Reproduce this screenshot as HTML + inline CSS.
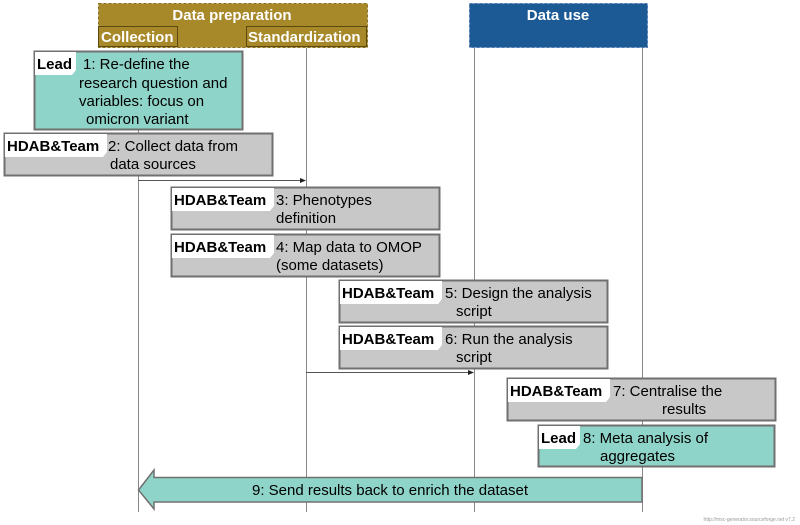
<!DOCTYPE html>
<html><head><meta charset="utf-8"><style>
html,body{margin:0;padding:0;background:#fff;width:800px;height:525px;overflow:hidden}
svg{display:block}
text{font-family:"Liberation Sans",Arial,sans-serif;font-size:15px;fill:#000}
.b{font-weight:bold}
</style></head><body>
<svg width="800" height="525" viewBox="0 0 800 525">
<g stroke="#888" stroke-width="1">
<line x1="138.5" y1="48" x2="138.5" y2="512"/>
<line x1="306.5" y1="48" x2="306.5" y2="512"/>
<line x1="474.5" y1="48" x2="474.5" y2="512"/>
<line x1="642.5" y1="48" x2="642.5" y2="512"/>
</g>
<!-- headers -->
<rect x="98.5" y="3.5" width="269" height="44" fill="#a8892a" stroke="#8a7020" stroke-dasharray="3,2"/>
<text x="232" y="20" text-anchor="middle" class="b" style="fill:#fff">Data preparation</text>
<rect x="98.5" y="26.5" width="79" height="20" fill="#a8892a" stroke="#5a4a10"/>
<text x="101" y="42" class="b" style="fill:#fff">Collection</text>
<rect x="246.5" y="26.5" width="120" height="20" fill="#a8892a" stroke="#5a4a10"/>
<text x="248" y="42" class="b" style="fill:#fff">Standardization</text>
<rect x="469.5" y="3.5" width="178" height="44" fill="#1c5a96" stroke="#4a7ab0" stroke-dasharray="3,2"/>
<text x="558" y="20" text-anchor="middle" class="b" style="fill:#fff">Data use</text>
<!-- box 1 -->
<rect x="34.5" y="51.5" width="208" height="78" fill="#8fd4c8" stroke="#707070" stroke-width="2"/>
<path d="M35 52 H76 V70 L72 75 H35 Z" fill="#fff"/>
<text x="37" y="69" class="b">Lead</text>
<text x="83" y="69">1: Re-define the</text>
<text x="79" y="88">research question and</text>
<text x="79" y="106">variables: focus on</text>
<text x="86" y="124">omicron variant</text>
<!-- box 2 -->
<rect x="4.5" y="133.5" width="268" height="42" fill="#c8c8c8" stroke="#707070" stroke-width="2"/>
<path d="M5 134 H107 V152 L103 157 H5 Z" fill="#fff"/>
<text x="7" y="151" class="b">HDAB&amp;Team</text>
<text x="108" y="151">2: Collect data from</text>
<text x="110" y="169">data sources</text>
<!-- arrow -->
<line x1="138" y1="180.5" x2="302" y2="180.5" stroke="#555"/>
<path d="M306 180.5 L300 178 L300 183 Z" fill="#222"/>
<!-- box 3 -->
<rect x="171.5" y="187.5" width="268" height="42" fill="#c8c8c8" stroke="#707070" stroke-width="2"/>
<path d="M172 188 H274 V206 L270 211 H172 Z" fill="#fff"/>
<text x="174" y="205" class="b">HDAB&amp;Team</text>
<text x="276" y="205">3: Phenotypes</text>
<text x="276" y="223">definition</text>
<!-- box 4 -->
<rect x="171.5" y="234.5" width="268" height="42" fill="#c8c8c8" stroke="#707070" stroke-width="2"/>
<path d="M172 235 H274 V253 L270 258 H172 Z" fill="#fff"/>
<text x="174" y="252" class="b">HDAB&amp;Team</text>
<text x="276" y="252">4: Map data to OMOP</text>
<text x="276" y="270">(some datasets)</text>
<!-- box 5 -->
<rect x="339.5" y="280.5" width="268" height="42" fill="#c8c8c8" stroke="#707070" stroke-width="2"/>
<path d="M340 281 H442 V299 L438 304 H340 Z" fill="#fff"/>
<text x="342" y="298" class="b">HDAB&amp;Team</text>
<text x="445" y="298">5: Design the analysis</text>
<text x="456" y="316">script</text>
<!-- box 6 -->
<rect x="339.5" y="326.5" width="268" height="42" fill="#c8c8c8" stroke="#707070" stroke-width="2"/>
<path d="M340 327 H442 V345 L438 350 H340 Z" fill="#fff"/>
<text x="342" y="344" class="b">HDAB&amp;Team</text>
<text x="445" y="344">6: Run the analysis</text>
<text x="456" y="362">script</text>
<!-- arrow -->
<line x1="306" y1="372.5" x2="470" y2="372.5" stroke="#555"/>
<path d="M474 372.5 L468 370 L468 375 Z" fill="#222"/>
<!-- box 7 -->
<rect x="507.5" y="378.5" width="268" height="42" fill="#c8c8c8" stroke="#707070" stroke-width="2"/>
<path d="M508 379 H610 V397 L606 402 H508 Z" fill="#fff"/>
<text x="510" y="396" class="b">HDAB&amp;Team</text>
<text x="613" y="396">7: Centralise the</text>
<text x="662" y="414">results</text>
<!-- box 8 -->
<rect x="538.5" y="425.5" width="236" height="41" fill="#8fd4c8" stroke="#707070" stroke-width="2"/>
<path d="M539 426 H580 V444 L576 449 H539 Z" fill="#fff"/>
<text x="541" y="443" class="b">Lead</text>
<text x="583" y="443">8: Meta analysis of</text>
<text x="600" y="461">aggregates</text>
<!-- arrow 9 -->
<path d="M642 477.5 H154 V470 L138.5 490 L154 509 V502 H642 Z" fill="#8fd4c8" stroke="#707070" stroke-width="1.5"/>
<text x="390" y="495" text-anchor="middle">9: Send results back to enrich the dataset</text>
<text x="795" y="521" text-anchor="end" style="font-size:5px;fill:#999">http://msc-generator.sourceforge.net v7.2</text>
</svg>
</body></html>
